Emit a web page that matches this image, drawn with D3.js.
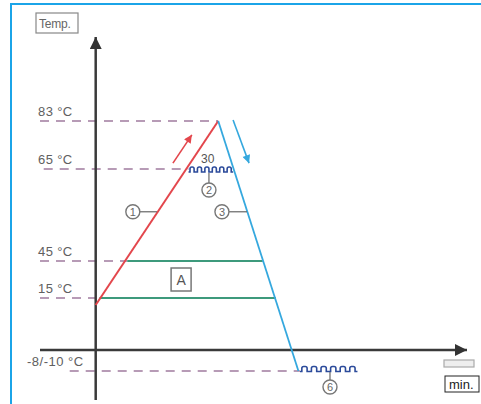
<!DOCTYPE html>
<html>
<head>
<meta charset="utf-8">
<script src="https://cdn.jsdelivr.net/npm/d3@7"></script>
<style>
  body { margin: 0; background: #fff; }
  svg { display: block; font-family: "Liberation Sans", Arial, sans-serif; }
</style>
</head>
<body>
<svg id="chart" width="481" height="404"></svg>
<script>
// Temperature levels marked on the diagram (schematic axis)
var levels = [83, 65, 45, 15, -9];
var levelLabels = ["83 °C", "65 °C", "45 °C", "15 °C", "-8/-10 °C"];
var dashFrom = [-15, -14, -15, -15, -7];
var dashTo = [33, 25, 8.5, 0, 55];

// Heating (1) and cooling (3) curves, [minutes, temperature]
var heating = [[0, 13], [33, 83]];
var cooling = [[33, 83], [54.6, -9]];

// Holding periods (wavy lines)
var holdFrom = [25, 55];
var holdTo = [37, 70.5];
var holdTemp = [65, -9];
var holdText = ["30", ""];

// Range A (green lines)
var bandTemp = [45, 15];
var bandFrom = [8.5, 1];
var bandTo = [45, 48.5];

// Direction arrows
var redArrow = [[20.8, 67.2], [25.9, 77.8]];
var blueArrow = [[37, 83.4], [41.3, 67.2]];

var svg = d3.select("#chart");

var x = d3.scaleLinear().domain([-15, 100]).range([40, 467]);
var y = d3.scaleLinear().domain([-9, 0, 15, 45, 65, 83]).range([371, 350, 298, 261, 169, 121]);

var line = d3.line().x(function(d) { return x(d[0]); }).y(function(d) { return y(d[1]); });

var defs = svg.append("defs");
function marker(id, color, w, h) {
    defs.append("marker")
        .attr("id", id)
        .attr("viewBox", "0 0 10 10")
        .attr("refX", 10).attr("refY", 5)
        .attr("markerUnits", "userSpaceOnUse")
        .attr("markerWidth", w).attr("markerHeight", h)
        .attr("orient", "auto")
        .append("path")
        .attr("d", "M0,0L10,5L0,10Z")
        .attr("fill", color);
}
marker("axisHead", "#333", 15, 12);
marker("redHead", "#e3464c", 9, 8);
marker("blueHead", "#35a8de", 9, 8);

// Blue frame (top and left edges)
svg.append("path")
    .attr("d", "M11,404L11,4L481,4")
    .attr("fill", "none")
    .attr("stroke", "#1ba4e8")
    .attr("stroke-width", 2);

// Dashed level lines
svg.selectAll(".level")
    .data(levels)
    .enter().append("line")
    .attr("class", "level")
    .attr("x1", function(d, i) { return x(dashFrom[i]); })
    .attr("x2", function(d, i) { return x(dashTo[i]); })
    .attr("y1", function(d) { return y(d); })
    .attr("y2", function(d) { return y(d); })
    .attr("stroke", "#a07b9e")
    .attr("stroke-width", 1.6)
    .attr("stroke-dasharray", "9 7");

svg.selectAll(".levelLabel")
    .data(levels)
    .enter().append("text")
    .attr("class", "levelLabel")
    .attr("x", function(d, i) { return i == levels.length - 1 ? 27 : 38; })
    .attr("y", function(d) { return y(d) - 5; })
    .attr("font-size", 13)
    .attr("fill", "#606060")
    .attr("letter-spacing", function(d, i) { return i == levels.length - 1 ? 0.5 : 0.4; })
    .text(function(d, i) { return levelLabels[i]; });

// Axes
svg.append("line")
    .attr("x1", x(0)).attr("x2", x(0))
    .attr("y1", 400).attr("y2", 37)
    .attr("stroke", "#3a3a3a").attr("stroke-width", 2.5)
    .attr("marker-end", "url(#axisHead)");

svg.append("line")
    .attr("x1", x(-15)).attr("x2", x(100))
    .attr("y1", y(0)).attr("y2", y(0))
    .attr("stroke", "#3a3a3a").attr("stroke-width", 2.5)
    .attr("marker-end", "url(#axisHead)");

// Range A
svg.selectAll(".band")
    .data(bandTemp)
    .enter().append("line")
    .attr("class", "band")
    .attr("x1", function(d, i) { return x(bandFrom[i]); })
    .attr("x2", function(d, i) { return x(bandTo[i]); })
    .attr("y1", function(d) { return y(d); })
    .attr("y2", function(d) { return y(d); })
    .attr("stroke", "#3d9a7c")
    .attr("stroke-width", 2);

var aX = x(23), aY = (y(45) + y(15)) / 2;
svg.append("rect")
    .attr("x", aX - 10).attr("y", aY - 11.5)
    .attr("width", 20).attr("height", 23)
    .attr("fill", "#fff").attr("stroke", "#777").attr("stroke-width", 1.5);
svg.append("text")
    .attr("x", aX).attr("y", aY + 5)
    .attr("text-anchor", "middle")
    .attr("font-size", 14).attr("fill", "#555")
    .text("A");

// Heating and cooling curves
svg.append("path")
    .attr("d", line(heating))
    .attr("fill", "none").attr("stroke", "#e3464c").attr("stroke-width", 2);

svg.append("path")
    .attr("d", line(cooling))
    .attr("fill", "none").attr("stroke", "#35a8de").attr("stroke-width", 1.8);

svg.append("path")
    .attr("d", line(redArrow))
    .attr("stroke", "#e3464c").attr("stroke-width", 1.6)
    .attr("marker-end", "url(#redHead)");

svg.append("path")
    .attr("d", line(blueArrow))
    .attr("stroke", "#35a8de").attr("stroke-width", 1.6)
    .attr("marker-end", "url(#blueHead)");

// Wavy holding lines
function wave(x0, x1, base, n) {
    var p = d3.path();
    var step = (x1 - x0) / n;
    var top = base - 5, r = 1.8;
    p.moveTo(x0, base);
    for (var i = 0; i < n; i++) {
        var a = x0 + i * step + step * 0.2;
        var b = a + step * 0.55;
        p.lineTo(a, base);
        p.lineTo(a, top + r);
        p.quadraticCurveTo(a, top, a + r, top);
        p.lineTo(b - r, top);
        p.quadraticCurveTo(b, top, b, top + r);
        p.lineTo(b, base);
    }
    p.lineTo(x1, base);
    return p.toString();
}

svg.selectAll(".hold")
    .data(holdTemp)
    .enter().append("path")
    .attr("class", "hold")
    .attr("d", function(d, i) { return wave(x(holdFrom[i]), x(holdTo[i]), y(d) + (i == 0 ? 3 : 0.5), 6); })
    .attr("fill", "none")
    .attr("stroke", "#2c4b9b")
    .attr("stroke-width", 1.6);

svg.append("text")
    .attr("x", (x(holdFrom[0]) + x(holdTo[0])) / 2 - 3)
    .attr("y", y(holdTemp[0]) - 6)
    .attr("text-anchor", "middle")
    .attr("font-size", 12).attr("fill", "#555")
    .text(holdText[0]);

// Numbered callouts
function callout(cx, cy, num, lx1, ly1, lx2, ly2) {
    svg.append("line")
        .attr("x1", lx1).attr("y1", ly1).attr("x2", lx2).attr("y2", ly2)
        .attr("stroke", "#666").attr("stroke-width", 1.2);
    svg.append("circle")
        .attr("cx", cx).attr("cy", cy).attr("r", 7)
        .attr("fill", "#fff").attr("stroke", "#777").attr("stroke-width", 1.4);
    svg.append("text")
        .attr("x", cx).attr("y", cy + 3.8)
        .attr("text-anchor", "middle")
        .attr("font-size", 11).attr("fill", "#666")
        .text(num);
}

var c1y = y(55.7);
callout(x(10), c1y, "1", x(10) + 7, c1y, x(16.5), c1y);
var c2x = x(30.5);
callout(c2x, y(65) + 21, "2", c2x, y(65) + 4, c2x, y(65) + 14);
callout(x(34), c1y, "3", x(34) + 7, c1y, x(40.75), c1y);
var c6x = x(63.1);
callout(c6x, y(-9) + 16, "6", c6x, y(-9) + 1, c6x, y(-9) + 9);

// Axis captions
svg.append("rect")
    .attr("x", 36).attr("y", 13).attr("width", 42).attr("height", 20)
    .attr("fill", "#fff").attr("stroke", "#888").attr("stroke-width", 1.2);
svg.append("text")
    .attr("x", 39).attr("y", 28)
    .attr("font-size", 12).attr("fill", "#666")
    .attr("letter-spacing", -0.2)
    .text("Temp.");

svg.append("rect")
    .attr("x", 444).attr("y", 360).attr("width", 30).attr("height", 7)
    .attr("fill", "#eee").attr("stroke", "#aaa").attr("stroke-width", 1.2);

svg.append("rect")
    .attr("x", 445).attr("y", 376).attr("width", 34).attr("height", 16)
    .attr("fill", "#fff").attr("stroke", "#222").attr("stroke-width", 1);
svg.append("text")
    .attr("x", 449).attr("y", 388.5)
    .attr("font-size", 13).attr("fill", "#222")
    .text("min.");
</script>
</body>
</html>
